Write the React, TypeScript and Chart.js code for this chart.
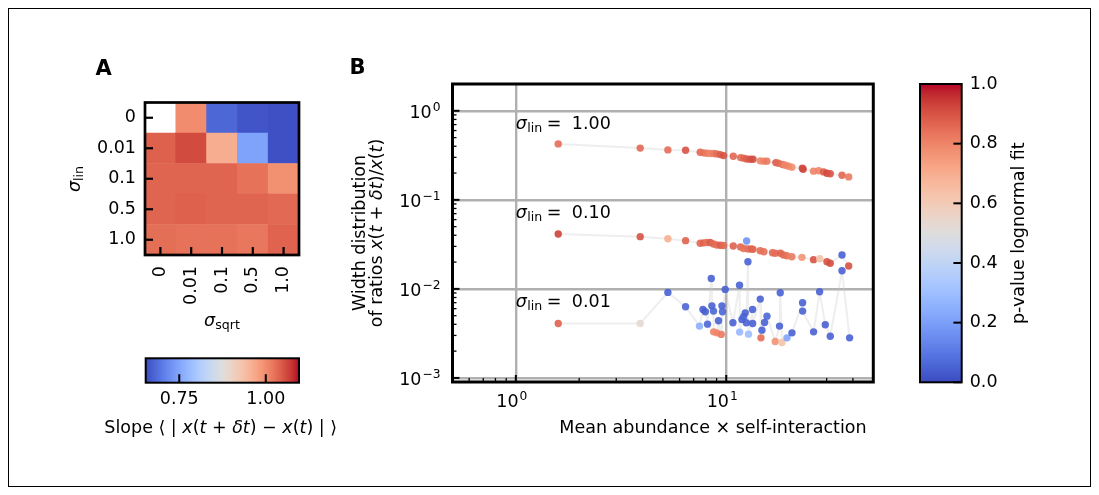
import React, { useEffect, useRef } from "react";
import { Chart, registerables } from "chart.js";

Chart.register(...registerables);

const FAMILY = '"DejaVu Sans", sans-serif';
const FS = 17.5;

// ---------------- Panel A data ----------------
const sigmaSqrtLabels = ["0", "0.01", "0.1", "0.5", "1.0"];
const sigmaLinLabels = ["0", "0.01", "0.1", "0.5", "1.0"];
// slope values; rows = sigma_lin (top → bottom), columns = sigma_sqrt
const slopeLin0 = [null, 1.0, 0.68, 0.662, 0.657];
const slopeLin001 = [1.04, 1.058, 0.963, 0.746, 0.657];
const slopeLin01 = [1.036, 1.036, 1.036, 1.025, 0.996];
const slopeLin05 = [1.036, 1.04, 1.036, 1.036, 1.032];
const slopeLin10 = [1.028, 1.025, 1.025, 1.02, 1.038];
const slopeMin = 0.653;
const slopeMax = 1.096;
const slopeTicks = [0.75, 1.0];

// ---------------- Panel B data ----------------
const lin100X = [1.59, 3.9, 5.28, 6.41, 7.52, 7.8, 8.09, 8.39, 8.73, 9.03, 9.37, 9.71, 10.8, 11.7, 12.1, 12.5, 13.0, 13.4, 14.5, 15.1, 15.6, 17.2, 17.7, 18.5, 19.1, 19.8, 20.5, 23.0, 23.2, 26.0, 27.5, 29.0, 30.1, 31.2, 35.5, 38.2];
const lin100Y = [0.425, 0.381, 0.364, 0.361, 0.343, 0.337, 0.334, 0.331, 0.331, 0.328, 0.322, 0.314, 0.309, 0.298, 0.294, 0.288, 0.286, 0.286, 0.274, 0.272, 0.272, 0.262, 0.258, 0.249, 0.245, 0.239, 0.233, 0.227, 0.221, 0.21, 0.212, 0.206, 0.199, 0.196, 0.189, 0.181];
const lin100P = [0.85, 0.86, 0.85, 0.9, 0.86, 0.84, 0.82, 0.8, 0.82, 0.85, 0.88, 0.9, 0.86, 0.85, 0.86, 0.88, 0.9, 0.91, 0.8, 0.8, 0.82, 0.88, 0.86, 0.84, 0.8, 0.8, 0.78, 0.92, 0.92, 0.8, 0.8, 0.88, 0.92, 0.9, 0.86, 0.82];

const lin010X = [1.59, 3.9, 5.28, 6.41, 7.52, 7.8, 8.09, 8.39, 8.7, 9.03, 9.37, 9.71, 10.8, 11.7, 12.1, 12.5, 12.7, 13.2, 13.4, 14.5, 15.1, 16.6, 17.1, 18.1, 18.7, 19.4, 20.5, 22.9, 26.0, 27.8, 30.1, 31.2, 35.5, 38.2];
const lin010Y = [0.0413, 0.0386, 0.0366, 0.0348, 0.0325, 0.0329, 0.0332, 0.0332, 0.0319, 0.0311, 0.0309, 0.0307, 0.0303, 0.0295, 0.0284, 0.0345, 0.028, 0.028, 0.0278, 0.0268, 0.0261, 0.0255, 0.0251, 0.0251, 0.024, 0.0236, 0.023, 0.0226, 0.0213, 0.0218, 0.0202, 0.0194, 0.024, 0.0181];
const lin010P = [0.93, 0.9, 0.69, 0.87, 0.86, 0.87, 0.84, 0.88, 0.86, 0.85, 0.88, 0.86, 0.87, 0.86, 0.84, 0.17, 0.85, 0.88, 0.86, 0.85, 0.84, 0.86, 0.85, 0.87, 0.86, 0.84, 0.82, 0.76, 0.9, 0.64, 0.9, 0.91, 0.05, 0.9];

const lin001X = [1.59, 3.9, 5.28, 6.41, 7.46, 7.75, 7.95, 8.15, 8.49, 8.55, 8.7, 8.71, 9.03, 9.19, 9.47, 9.54, 9.6, 9.89, 10.76, 11.57, 11.58, 11.88, 12.09, 12.31, 12.45, 12.68, 12.76, 13.34, 13.35, 14.51, 14.62, 14.78, 15.21, 15.62, 17.1, 17.92, 18.06, 18.41, 19.44, 20.53, 23.06, 23.07, 26.01, 27.78, 29.56, 31.22, 35.5, 38.57];
const lin001Y = [0.00409, 0.00409, 0.00913, 0.00629, 0.00382, 0.00588, 0.00553, 0.00402, 0.0131, 0.00645, 0.00563, 0.00329, 0.00321, 0.00438, 0.00308, 0.00645, 0.00553, 0.00987, 0.00416, 0.011, 0.00327, 0.00454, 0.00486, 0.00538, 0.00416, 0.0202, 0.0031, 0.00588, 0.00409, 0.00768, 0.00282, 0.00344, 0.0042, 0.00494, 0.00257, 0.00382, 0.00904, 0.0025, 0.00282, 0.00321, 0.00698, 0.00563, 0.00329, 0.00928, 0.00395, 0.00294, 0.016, 0.00282];
const lin001P = [0.875, 0.53, 0.05, 0.06, 0.25, 0.05, 0.04, 0.06, 0.05, 0.05, 0.06, 0.8, 0.8, 0.05, 0.82, 0.05, 0.06, 0.05, 0.05, 0.05, 0.28, 0.05, 0.06, 0.05, 0.05, 0.05, 0.3, 0.05, 0.05, 0.05, 0.85, 0.05, 0.05, 0.06, 0.77, 0.05, 0.05, 0.63, 0.22, 0.05, 0.05, 0.05, 0.05, 0.05, 0.05, 0.05, 0.05, 0.05];

const xMin = 0.5, xMax = 50;
const yMin = 9e-4, yMax = 2.0;
const xDecades = [1, 10];
const xDecadeExp = ["0", "1"];
const yDecades = [1, 0.1, 0.01, 0.001];
const yDecadeExp = ["0", "\u22121", "\u22122", "\u22123"];
const annotX = 1.0;
const annotY = [0.63, 0.063, 0.0063];
const annotText = ["1.00", "0.10", "0.01"];
const pTicks = [0, 0.2, 0.4, 0.6, 0.8, 1.0];

// ---------------- colormap ----------------
const COOLWARM: number[][] = [
  [59, 76, 192], [68, 90, 204], [77, 104, 215], [87, 117, 225], [98, 130, 234], [108, 142, 241],
  [119, 154, 247], [130, 165, 251], [141, 176, 254], [152, 185, 255], [163, 194, 255], [174, 201, 253],
  [184, 208, 249], [194, 213, 244], [204, 217, 238], [213, 219, 230], [221, 221, 221], [229, 216, 209],
  [236, 211, 197], [241, 204, 185], [245, 196, 173], [247, 187, 160], [247, 177, 148], [247, 166, 135],
  [244, 154, 123], [241, 141, 111], [236, 127, 99], [229, 112, 88], [222, 96, 77], [213, 80, 66],
  [203, 62, 56], [192, 40, 47], [180, 4, 38],
];
function coolwarm(t: number, a = 1): string {
  const n = COOLWARM.length - 1;
  const tt = Math.max(0, Math.min(1, t)) * n;
  const i = Math.min(n - 1, Math.floor(tt));
  const f = tt - i;
  const c = COOLWARM[i].map((v, k) => Math.round(v + (COOLWARM[i + 1][k] - v) * f));
  return `rgba(${c[0]},${c[1]},${c[2]},${a})`;
}
function gradient(ctx: CanvasRenderingContext2D, x0: number, y0: number, x1: number, y1: number) {
  const g = ctx.createLinearGradient(x0, y0, x1, y1);
  COOLWARM.forEach((c, i) => g.addColorStop(i / (COOLWARM.length - 1), `rgb(${c[0]},${c[1]},${c[2]})`));
  return g;
}

// ---------------- text helpers ----------------
type Seg = { t: string; it?: boolean; bold?: boolean; s?: number; dy?: number; dx?: number };
const fontOf = (g: Seg) => `${g.it ? "italic " : ""}${g.bold ? "bold " : ""}${g.s ?? FS}px ${FAMILY}`;
function richWidth(ctx: CanvasRenderingContext2D, segs: Seg[]) {
  let w = 0;
  for (const g of segs) {
    ctx.font = fontOf(g);
    w += ctx.measureText(g.t).width + (g.dx ?? 0);
  }
  return w;
}
function drawRich(ctx: CanvasRenderingContext2D, segs: Seg[], x: number, y: number, align: "left" | "center" | "right", rot = 0) {
  ctx.save();
  ctx.translate(x, y);
  if (rot) ctx.rotate(rot);
  const w = richWidth(ctx, segs);
  let cx = align === "left" ? 0 : align === "center" ? -w / 2 : -w;
  ctx.textAlign = "left";
  ctx.textBaseline = "alphabetic";
  ctx.fillStyle = "#000";
  for (const g of segs) {
    ctx.font = fontOf(g);
    cx += g.dx ?? 0;
    ctx.fillText(g.t, cx, g.dy ?? 0);
    cx += ctx.measureText(g.t).width;
  }
  ctx.restore();
}
function seg(ctx: CanvasRenderingContext2D, x0: number, y0: number, x1: number, y1: number) {
  ctx.beginPath();
  ctx.moveTo(x0, y0);
  ctx.lineTo(x1, y1);
  ctx.stroke();
}

// ---------------- layout (page coordinates) ----------------
const ORIGIN = 9;
type Box = { x: number; y: number; w: number; h: number };
const BOX_A: Box = { x: 20, y: 40, w: 310, h: 305 };
const BOX_CA: Box = { x: 95, y: 345, w: 250, h: 100 };
const BOX_B: Box = { x: 330, y: 40, w: 570, h: 410 };
const BOX_CB: Box = { x: 900, y: 60, w: 180, h: 340 };

const fixW = (w: number) => (s: any) => {
  s.width = w;
  s.paddingTop = 0; s.paddingBottom = 0; s.paddingLeft = 0; s.paddingRight = 0;
};
const fixH = (h: number) => (s: any) => {
  s.height = h;
  s.paddingTop = 0; s.paddingBottom = 0; s.paddingLeft = 0; s.paddingRight = 0;
};
const baseOpts = {
  animation: false as const,
  responsive: false,
  maintainAspectRatio: false,
  events: [] as any[],
  plugins: { legend: { display: false }, tooltip: { enabled: false } },
};

// ---------------- charts ----------------
function makeHeatmap(canvas: HTMLCanvasElement) {
  const rows = [slopeLin0, slopeLin001, slopeLin01, slopeLin05, slopeLin10];
  const datasets = rows
    .slice()
    .reverse()
    .map((row) => ({
      data: row.map(() => 1),
      backgroundColor: row.map((v) => (v == null ? "#ffffff" : coolwarm((v - slopeMin) / (slopeMax - slopeMin)))),
      borderWidth: 0,
      barPercentage: 1,
      categoryPercentage: 1,
    }));
  const ox = BOX_A.x, oy = BOX_A.y;
  const deco = {
    id: "heatDeco",
    afterDraw(chart: any) {
      const { ctx, chartArea: ca } = chart;
      ctx.save();
      ctx.strokeStyle = "#000";
      ctx.lineWidth = 2.2;
      const xs = chart.scales.x, ys = chart.scales.y;
      for (let i = 0; i < 5; i++) {
        const px = xs.getPixelForTick(i);
        seg(ctx, px, ca.bottom, px, ca.bottom - 8);
        const py = ys.getPixelForValue(i + 0.5);
        seg(ctx, ca.left, py, ca.left + 8, py);
      }
      ctx.lineWidth = 2.7;
      ctx.strokeRect(ca.left, ca.top, ca.right - ca.left, ca.bottom - ca.top);
      ctx.restore();
      drawRich(ctx, [{ t: "σ", it: true }, { t: "lin", s: FS * 0.72, dy: 3 }], 80 - ox, 179 - oy, "center", -Math.PI / 2);
      drawRich(ctx, [{ t: "σ", it: true }, { t: "sqrt", s: FS * 0.72, dy: 3 }], 222 - ox, 326 - oy, "center");
      drawRich(ctx, [{ t: "A", bold: true, s: 21 }], 95.5 - ox, 75 - oy, "left");
    },
  };
  return new Chart(canvas, {
    type: "bar",
    data: { labels: sigmaSqrtLabels, datasets },
    plugins: [deco],
    options: {
      ...baseOpts,
      layout: { padding: { left: 0, right: BOX_A.x + BOX_A.w - 299, top: 102.5 - BOX_A.y, bottom: 0 } },
      scales: {
        x: {
          type: "category",
          stacked: true,
          grid: { display: false, drawTicks: false },
          border: { display: false },
          ticks: { autoSkip: false, minRotation: 90, maxRotation: 90, padding: 11, color: "#000", font: { family: FAMILY, size: FS } },
          afterFit: fixH(BOX_A.y + BOX_A.h - 255),
        },
        y: {
          type: "linear",
          stacked: true,
          min: 0,
          max: 5,
          bounds: "data",
          grid: { display: false, drawTicks: false },
          border: { display: false },
          afterBuildTicks: (s: any) => {
            s.ticks = [0.5, 1.5, 2.5, 3.5, 4.5].map((v) => ({ value: v }));
          },
          ticks: {
            padding: 9,
            color: "#000",
            font: { family: FAMILY, size: FS },
            callback: (v: any) => sigmaLinLabels[4 - Math.floor(Number(v))],
          },
          afterFit: fixW(145 - BOX_A.x),
        },
      },
    } as any,
  });
}

function makeSlopeBar(canvas: HTMLCanvasElement) {
  const ox = BOX_CA.x, oy = BOX_CA.y;
  const deco = {
    id: "cbA",
    afterDraw(chart: any) {
      const { ctx, chartArea: ca } = chart;
      const xs = chart.scales.x;
      ctx.save();
      ctx.strokeStyle = "#000";
      ctx.lineWidth = 2;
      for (const v of slopeTicks) {
        const px = xs.getPixelForValue(v);
        seg(ctx, px, ca.bottom, px, ca.bottom - 8.5);
      }
      ctx.strokeRect(ca.left, ca.top, ca.right - ca.left, ca.bottom - ca.top);
      ctx.restore();
      drawRich(
        ctx,
        [
          { t: "Slope " }, { t: "\u27E8 | " }, { t: "x", it: true }, { t: "(" }, { t: "t", it: true }, { t: " + " },
          { t: "δt", it: true }, { t: ")" }, { t: " \u2212 " }, { t: "x", it: true }, { t: "(" }, { t: "t", it: true },
          { t: ")" }, { t: " | \u27E9" },
        ],
        220.7 - ox,
        432.7 - oy,
        "center"
      );
    },
  };
  return new Chart(canvas, {
    type: "bar",
    data: {
      labels: ["slope"],
      datasets: [
        {
          data: [[slopeMin, slopeMax]],
          backgroundColor: (c: any) => {
            const ca = c.chart.chartArea;
            if (!ca) return "#ccc";
            return gradient(c.chart.ctx, ca.left, 0, ca.right, 0);
          },
          borderWidth: 0,
          barPercentage: 1,
          categoryPercentage: 1,
        } as any,
      ],
    },
    plugins: [deco],
    options: {
      ...baseOpts,
      indexAxis: "y",
      layout: { padding: { left: 145.7 - BOX_CA.x, right: BOX_CA.x + BOX_CA.w - 299, top: 358.3 - BOX_CA.y, bottom: 0 } },
      scales: {
        y: { type: "category", display: false },
        x: {
          type: "linear",
          min: slopeMin,
          max: slopeMax,
          bounds: "data",
          grid: { display: false, drawTicks: false },
          border: { display: false },
          afterBuildTicks: (s: any) => {
            s.ticks = slopeTicks.map((v) => ({ value: v }));
          },
          ticks: { padding: 6, color: "#000", font: { family: FAMILY, size: FS }, callback: (v: any) => Number(v).toFixed(2) },
          afterFit: fixH(BOX_CA.y + BOX_CA.h - 382.7),
        },
      },
    } as any,
  });
}

function makeScatter(canvas: HTMLCanvasElement) {
  const series = [
    { x: lin001X, y: lin001Y, p: lin001P },
    { x: lin010X, y: lin010Y, p: lin010P },
    { x: lin100X, y: lin100Y, p: lin100P },
  ];
  const datasets = series.map((s) => ({
    data: s.x.map((x, i) => ({ x, y: s.y[i] })),
    showLine: true,
    borderColor: "rgba(200,200,200,0.3)",
    borderWidth: 2,
    pointRadius: 3.7,
    pointBorderWidth: 0,
    pointBorderColor: "rgba(0,0,0,0)",
    pointBackgroundColor: s.p.map((p) => coolwarm(p, 0.9)),
  }));
  const ox = BOX_B.x, oy = BOX_B.y;
  const deco = {
    id: "bDeco",
    afterDraw(chart: any) {
      const { ctx, chartArea: ca } = chart;
      const xs = chart.scales.x, ys = chart.scales.y;
      ctx.save();
      ctx.strokeStyle = "#000";
      // minor + major ticks, inward
      ctx.lineWidth = 1.3;
      for (let k = -4; k <= 1; k++) {
        for (let m = 2; m <= 9; m++) {
          const v = m * Math.pow(10, k);
          if (v > yMin && v < yMax) {
            const py = ys.getPixelForValue(v);
            seg(ctx, ca.left, py, ca.left + 4, py);
          }
          if (v > xMin && v < xMax) {
            const px = xs.getPixelForValue(v);
            seg(ctx, px, ca.bottom, px, ca.bottom - 4);
          }
        }
      }
      ctx.lineWidth = 2;
      for (const v of yDecades) {
        const py = ys.getPixelForValue(v);
        seg(ctx, ca.left, py, ca.left + 7, py);
      }
      for (const v of xDecades) {
        const px = xs.getPixelForValue(v);
        seg(ctx, px, ca.bottom, px, ca.bottom - 7);
      }
      ctx.lineWidth = 3;
      ctx.strokeRect(ca.left, ca.top, ca.right - ca.left, ca.bottom - ca.top);
      ctx.restore();

      // tick labels
      yDecades.forEach((v, i) => {
        const py = ys.getPixelForValue(v);
        drawRich(ctx, [{ t: "10" }, { t: yDecadeExp[i], s: FS * 0.7, dy: -6.6, dx: 1 }], 440.5 - ox, py + 6.8, "right");
      });
      xDecades.forEach((v, i) => {
        const px = xs.getPixelForValue(v);
        drawRich(ctx, [{ t: "10" }, { t: xDecadeExp[i], s: FS * 0.7, dy: -6.6, dx: 1 }], px - 4, 407 - oy, "center");
      });

      // annotations
      annotY.forEach((fy, i) => {
        const x0 = xs.getPixelForValue(annotX);
        const y0 = ys.getPixelForValue(fy);
        drawRich(ctx, [{ t: "σ", it: true }], x0, y0, "left");
        drawRich(ctx, [{ t: "lin", s: FS * 0.72 }], x0 + 11.5, y0 + 3, "left");
        drawRich(ctx, [{ t: "=" }], x0 + 31, y0, "left");
        drawRich(ctx, [{ t: annotText[i] }], x0 + 56, y0, "left");
      });

      // axis titles
      drawRich(ctx, [{ t: "Mean abundance \u00D7 self-interaction" }], 713 - ox, 433 - oy, "center");
      const cy = (ca.top + ca.bottom) / 2;
      drawRich(ctx, [{ t: "Width distribution" }], 365 - ox, cy, "center", -Math.PI / 2);
      drawRich(
        ctx,
        [
          { t: "of ratios " }, { t: "x", it: true }, { t: "(" }, { t: "t", it: true }, { t: " + " }, { t: "δt", it: true },
          { t: ")/" }, { t: "x", it: true }, { t: "(" }, { t: "t", it: true }, { t: ")" },
        ],
        382 - ox,
        cy,
        "center",
        -Math.PI / 2
      );
      drawRich(ctx, [{ t: "B", bold: true, s: 21 }], 349.5 - ox, 74 - oy, "left");
    },
  };
  return new Chart(canvas, {
    type: "scatter",
    data: { datasets },
    plugins: [deco],
    options: {
      ...baseOpts,
      layout: { padding: { left: 0, right: BOX_B.x + BOX_B.w - 873.3, top: 84 - BOX_B.y, bottom: 0 } },
      scales: {
        x: {
          type: "logarithmic",
          min: xMin,
          max: xMax,
          bounds: "data",
          grid: { color: "#b0b0b0", lineWidth: 2.4, drawTicks: false },
          border: { display: false },
          afterBuildTicks: (s: any) => {
            s.ticks = xDecades.map((v) => ({ value: v }));
          },
          ticks: { display: false },
          afterFit: fixH(BOX_B.y + BOX_B.h - 382),
        },
        y: {
          type: "logarithmic",
          min: yMin,
          max: yMax,
          bounds: "data",
          grid: { color: "#b0b0b0", lineWidth: 2.4, drawTicks: false },
          border: { display: false },
          afterBuildTicks: (s: any) => {
            s.ticks = yDecades.map((v) => ({ value: v }));
          },
          ticks: { display: false },
          afterFit: fixW(452.5 - BOX_B.x),
        },
      },
    } as any,
  });
}

function makePBar(canvas: HTMLCanvasElement) {
  const ox = BOX_CB.x;
  const deco = {
    id: "cbB",
    afterDraw(chart: any) {
      const { ctx, chartArea: ca } = chart;
      const ys = chart.scales.y;
      ctx.save();
      ctx.strokeStyle = "#000";
      ctx.lineWidth = 2;
      for (const v of pTicks) {
        const py = ys.getPixelForValue(v);
        seg(ctx, ca.right, py, ca.right - 8.3, py);
      }
      ctx.strokeRect(ca.left, ca.top, ca.right - ca.left, ca.bottom - ca.top);
      ctx.restore();
      drawRich(ctx, [{ t: "p-value lognormal fit" }], 1024 - ox, (ca.top + ca.bottom) / 2, "center", -Math.PI / 2);
    },
  };
  return new Chart(canvas, {
    type: "bar",
    data: {
      labels: ["p"],
      datasets: [
        {
          data: [[0, 1]],
          backgroundColor: (c: any) => {
            const ca = c.chart.chartArea;
            if (!ca) return "#ccc";
            return gradient(c.chart.ctx, 0, ca.bottom, 0, ca.top);
          },
          borderWidth: 0,
          barPercentage: 1,
          categoryPercentage: 1,
        } as any,
      ],
    },
    plugins: [deco],
    options: {
      ...baseOpts,
      layout: { padding: { left: 920 - BOX_CB.x, right: 0, top: 84 - BOX_CB.y, bottom: BOX_CB.y + BOX_CB.h - 382.3 } },
      scales: {
        x: { type: "category", display: false },
        y: {
          type: "linear",
          position: "right",
          min: 0,
          max: 1,
          bounds: "data",
          grid: { display: false, drawTicks: false },
          border: { display: false },
          afterBuildTicks: (s: any) => {
            s.ticks = pTicks.map((v) => ({ value: v }));
          },
          ticks: { padding: 8, color: "#000", font: { family: FAMILY, size: FS }, callback: (v: any) => Number(v).toFixed(1) },
          afterFit: fixW(BOX_CB.x + BOX_CB.w - 961.7),
        },
      },
    } as any,
  });
}

function ChartCanvas({ box, make }: { box: Box; make: (c: HTMLCanvasElement) => Chart }) {
  const ref = useRef<HTMLCanvasElement>(null);
  useEffect(() => {
    const ch = make(ref.current!);
    return () => ch.destroy();
  }, []);
  return (
    <canvas
      ref={ref}
      width={box.w}
      height={box.h}
      style={{ position: "absolute", left: box.x - ORIGIN, top: box.y - ORIGIN, width: box.w, height: box.h }}
    />
  );
}

export default function App() {
  return (
    <div
      style={{
        position: "relative",
        width: 1083,
        height: 479,
        border: "1px solid #000",
        boxSizing: "border-box",
        background: "#fff",
        overflow: "hidden",
      }}
    >
      <ChartCanvas box={BOX_A} make={makeHeatmap} />
      <ChartCanvas box={BOX_CA} make={makeSlopeBar} />
      <ChartCanvas box={BOX_B} make={makeScatter} />
      <ChartCanvas box={BOX_CB} make={makePBar} />
    </div>
  );
}
